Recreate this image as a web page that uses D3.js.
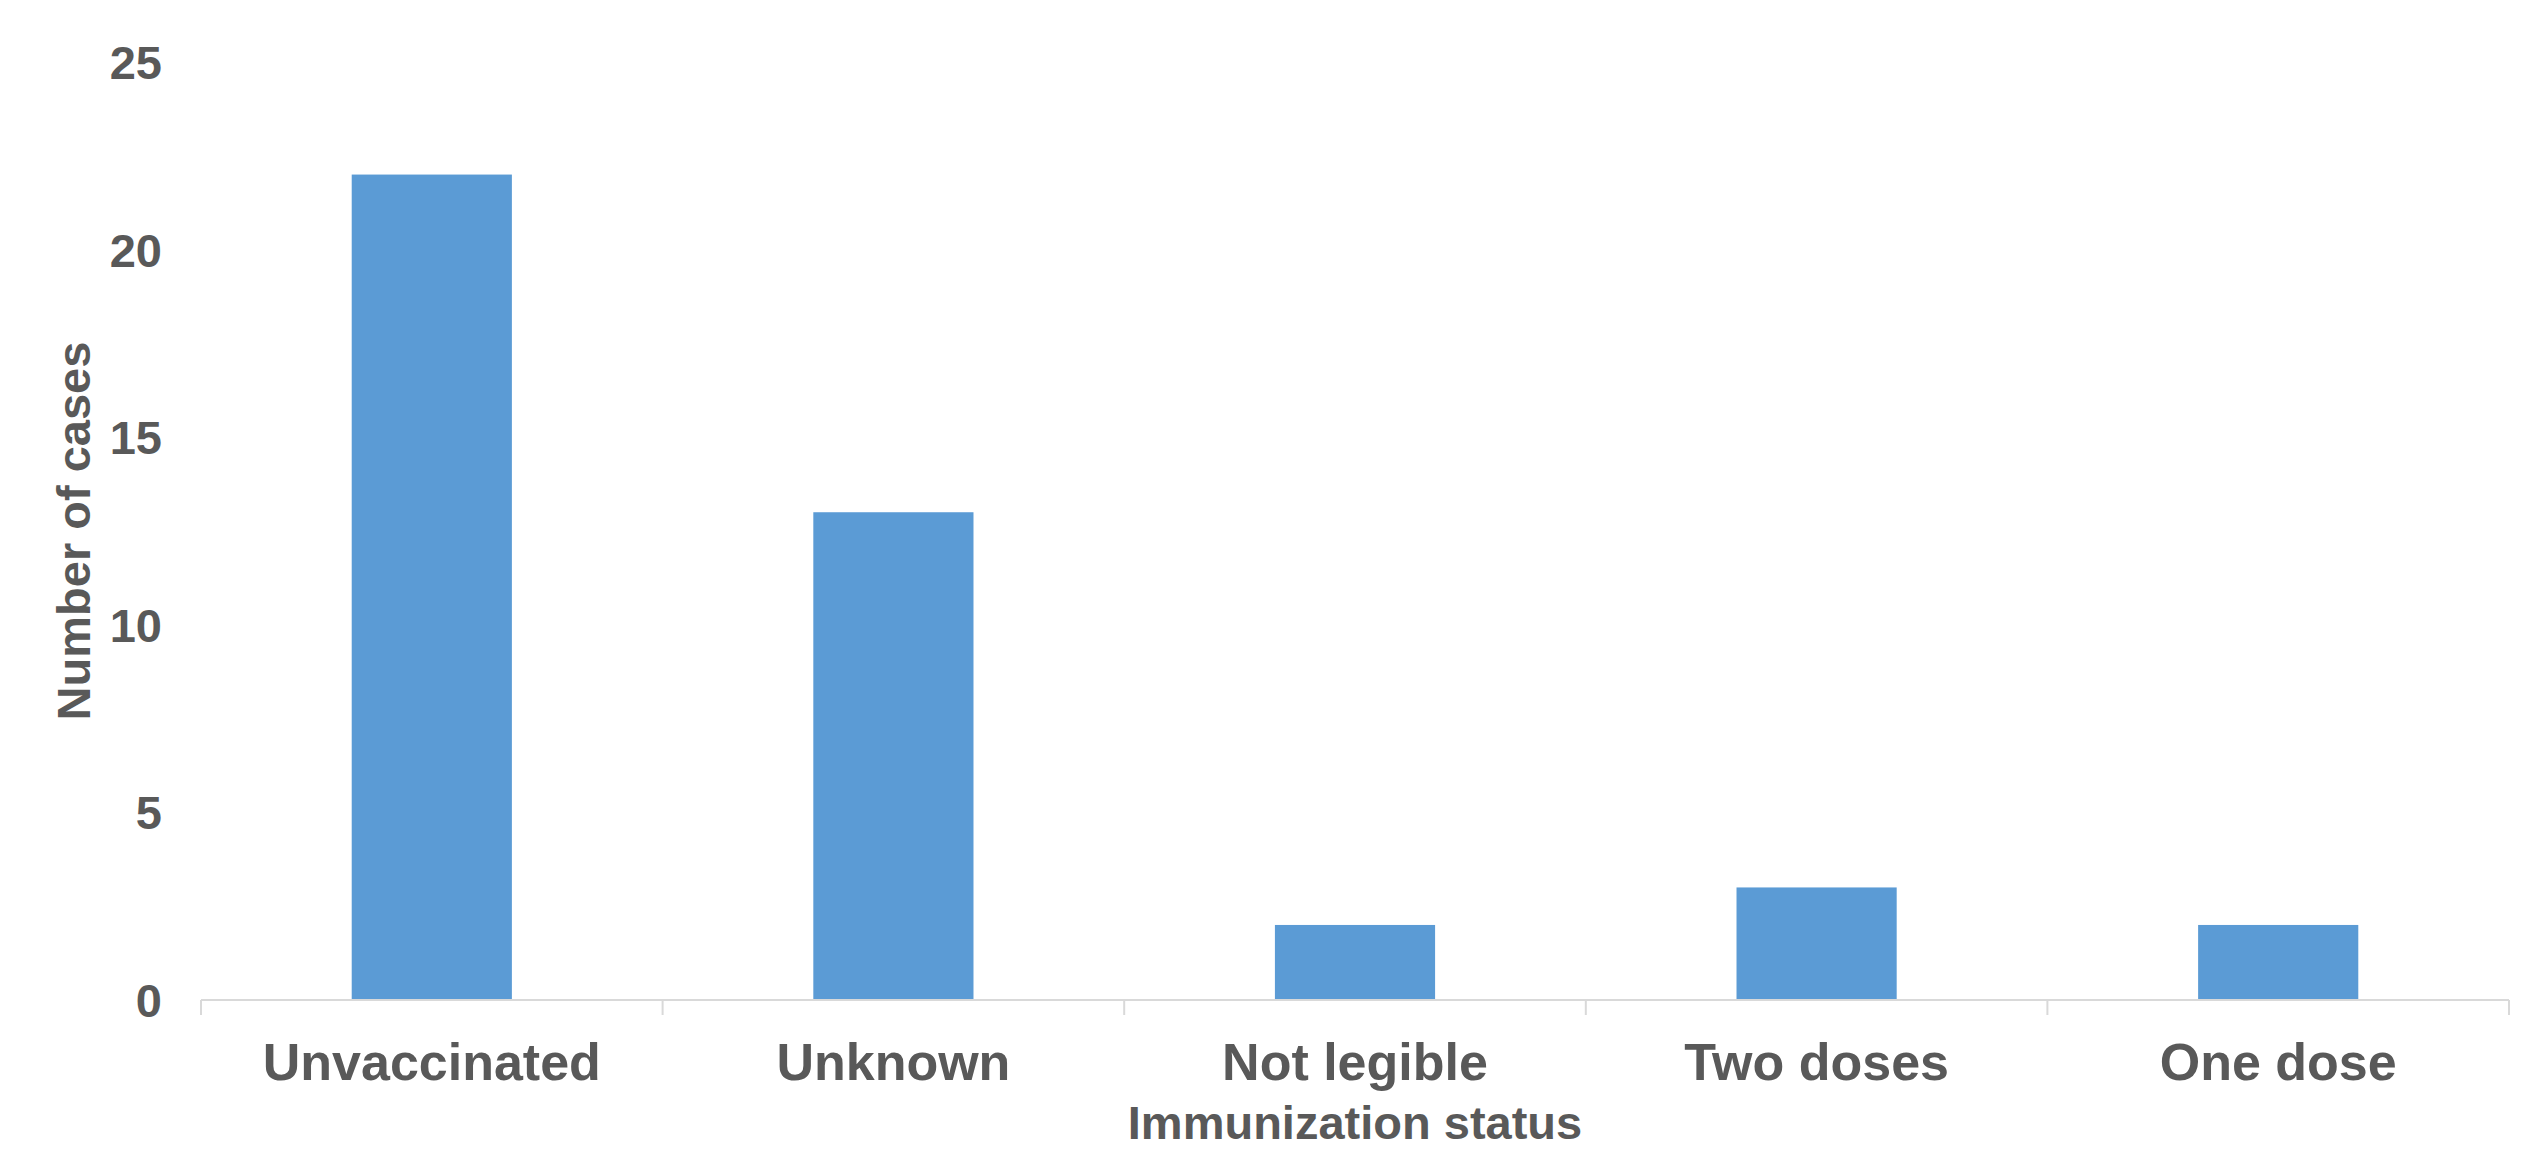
<!DOCTYPE html>
<html>
<head>
<meta charset="utf-8">
<script src="https://cdn.jsdelivr.net/npm/d3@7"></script>
<style>
  html, body { margin: 0; padding: 0; background: #ffffff; }
  svg { display: block; }
  text { font-family: "Liberation Sans", Arial, Helvetica, sans-serif; font-weight: bold; fill: #595959; }
</style>
</head>
<body>
<svg id="chart" width="2538" height="1152"></svg>
<script>
// Cases by immunization status
const categories = ["Unvaccinated", "Unknown", "Not legible", "Two doses", "One dose"];
const cases = [22, 13, 2, 3, 2];
const yTicks = [0, 5, 10, 15, 20, 25];
const xTitle = "Immunization status";
const yTitle = "Number of cases";

const svg = d3.select("#chart");
const plot = { left: 201, right: 2509, top: 62, bottom: 1000 };

const x = d3.scaleBand()
  .domain(categories)
  .range([plot.left, plot.right])
  .paddingInner(0.653)
  .paddingOuter(0.3265);

const xOuter = d3.scaleBand()
  .domain(categories)
  .range([plot.left, plot.right])
  .padding(0);

const y = d3.scaleLinear()
  .domain([0, 25])
  .range([plot.bottom, plot.top]);

// bars
svg.append("g")
  .selectAll("rect")
  .data(categories)
  .join("rect")
  .attr("x", d => x(d))
  .attr("width", x.bandwidth())
  .attr("y", (d, i) => y(cases[i]))
  .attr("height", (d, i) => y(0) - y(cases[i]))
  .attr("fill", "#5B9BD5");

// category axis: baseline plus tick marks between categories
const xAxis = svg.append("g");
xAxis.append("line")
  .attr("x1", plot.left).attr("x2", plot.right)
  .attr("y1", y(0)).attr("y2", y(0))
  .attr("stroke", "#d9d9d9").attr("stroke-width", 2);

const boundaries = categories.map(c => xOuter(c)).concat([plot.right]);
xAxis.selectAll("line.tick")
  .data(boundaries)
  .join("line")
  .attr("class", "tick")
  .attr("x1", d => d).attr("x2", d => d)
  .attr("y1", y(0)).attr("y2", y(0) + 15)
  .attr("stroke", "#d9d9d9").attr("stroke-width", 2);

xAxis.selectAll("text")
  .data(categories)
  .join("text")
  .attr("x", d => xOuter(d) + xOuter.bandwidth() / 2)
  .attr("y", 1080)
  .attr("text-anchor", "middle")
  .style("font-size", "52px")
  .text(d => d);

// value axis labels (no axis line)
svg.append("g")
  .selectAll("text")
  .data(yTicks)
  .join("text")
  .attr("x", 162)
  .attr("y", d => y(d))
  .attr("dy", "0.36em")
  .attr("text-anchor", "end")
  .style("font-size", "47px")
  .text(d => d);

// axis titles
svg.append("text")
  .attr("x", (plot.left + plot.right) / 2)
  .attr("y", 1139)
  .attr("text-anchor", "middle")
  .style("font-size", "47px")
  .text(xTitle);

svg.append("text")
  .attr("transform", `translate(90, ${(plot.top + plot.bottom) / 2}) rotate(-90)`)
  .attr("text-anchor", "middle")
  .style("font-size", "47px")
  .text(yTitle);
</script>
</body>
</html>
